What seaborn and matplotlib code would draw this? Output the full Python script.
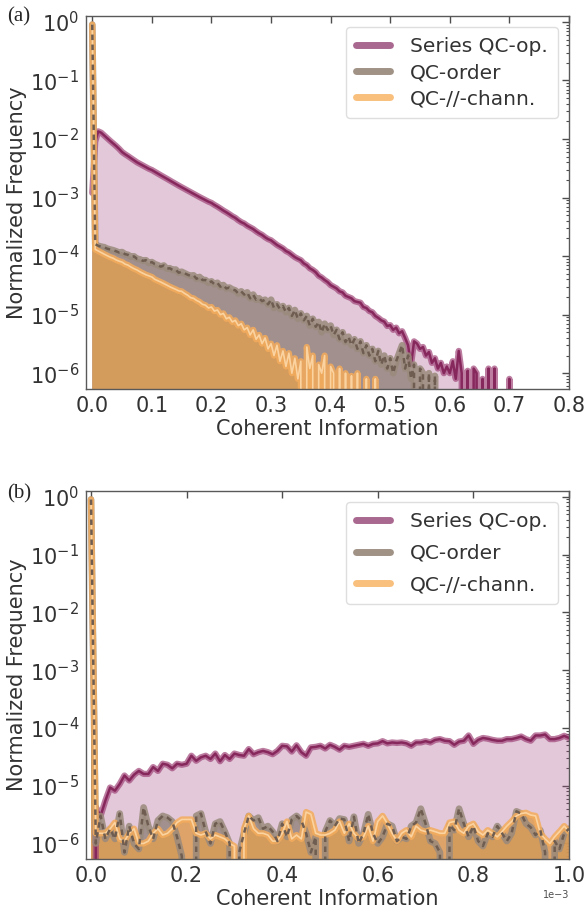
import numpy as np
import pandas as pd
import seaborn as sns
import matplotlib.pyplot as plt
from matplotlib.lines import Line2D
from matplotlib.ticker import LogLocator, MultipleLocator, NullFormatter

# ---- data: normalized frequency per bin ----
# panel (a): bin centres 0.000, 0.005, ... 0.720
a_step = 0.005
a_series = [1.2e-3, 9.0e-3, 1.35e-2, 1.28e-2, 1.15e-2, 1.03e-2, 9.3e-3, 8.4e-3, 7.6e-3, 6.8e-3,
            6.0e-3, 5.5e-3, 5.1e-3, 4.7e-3, 4.35e-3, 4.0e-3, 3.75e-3, 3.5e-3, 3.3e-3, 3.1e-3,
            2.95e-3, 2.75e-3, 2.57e-3, 2.4e-3, 2.25e-3, 2.1e-3, 1.96e-3, 1.83e-3, 1.71e-3, 1.6e-3,
            1.5e-3, 1.41e-3, 1.32e-3, 1.24e-3, 1.16e-3, 1.09e-3, 1.02e-3, 9.6e-4, 9.0e-4, 8.5e-4,
            8.1e-4, 7.5e-4, 7.0e-4, 6.5e-4, 6.0e-4, 5.6e-4, 5.2e-4, 4.8e-4, 4.5e-4, 4.1e-4,
            3.8e-4, 3.6e-4, 3.3e-4, 3.1e-4, 2.9e-4, 2.65e-4, 2.45e-4, 2.3e-4, 2.1e-4, 1.95e-4,
            1.86e-4, 1.7e-4, 1.55e-4, 1.45e-4, 1.35e-4, 1.22e-4, 1.15e-4, 1.05e-4, 9.6e-5, 9.0e-5,
            8.5e-5, 7.5e-5, 7.0e-5, 6.2e-5, 5.8e-5, 5.3e-5, 4.6e-5, 4.3e-5, 3.9e-5, 3.6e-5,
            3.2e-5, 3.0e-5, 2.8e-5, 2.5e-5, 2.4e-5, 2.1e-5, 2.0e-5, 1.9e-5, 1.7e-5, 1.65e-5,
            1.6e-5, 1.35e-5, 1.3e-5, 1.15e-5, 1.1e-5, 9.5e-6, 8.8e-6, 8.0e-6, 7.6e-6, 6.4e-6,
            6.6e-6, 5.5e-6, 6.0e-6, 4.8e-6, 5.2e-6, 4.0e-6, 3.0e-6, 1.4e-6, 3.5e-6, 3.2e-6,
            2.6e-6, 2.8e-6, 2.0e-6, 2.3e-6, 1.5e-6, 1.8e-6, 1.2e-6, 1.5e-6, 1.0e-6, 1.3e-6,
            1.0e-6, 1.6e-6, 8e-7, 2.4e-6, 1.0e-6, 0, 1.1e-6, 0, 1.2e-6, 1.0e-6,
            0, 8e-7, 0, 1.2e-6, 0, 1.2e-6, 0, 0, 0, 0,
            8e-7, 0, 0, 0, 0]
a_order = [0.9, 1.6e-4, 1.5e-4, 1.45e-4, 1.42e-4, 1.34e-4, 1.3e-4, 1.26e-4, 1.21e-4, 1.15e-4,
           1.17e-4, 1.08e-4, 1.05e-4, 9.7e-5, 9.9e-5, 9.0e-5, 8.8e-5, 8.3e-5, 8.5e-5, 7.6e-5,
           7.9e-5, 7.3e-5, 7.0e-5, 6.6e-5, 6.9e-5, 6.1e-5, 6.2e-5, 5.8e-5, 5.9e-5, 5.2e-5,
           5.4e-5, 5.1e-5, 4.8e-5, 4.6e-5, 4.7e-5, 4.1e-5, 4.4e-5, 3.9e-5, 3.9e-5, 3.5e-5,
           3.7e-5, 3.3e-5, 3.5e-5, 3.0e-5, 3.2e-5, 2.8e-5, 2.9e-5, 2.7e-5, 2.6e-5, 2.3e-5,
           2.5e-5, 2.2e-5, 2.4e-5, 1.9e-5, 2.2e-5, 1.8e-5, 1.9e-5, 1.7e-5, 1.8e-5, 1.5e-5,
           1.8e-5, 1.3e-5, 1.5e-5, 1.25e-5, 1.4e-5, 1.1e-5, 1.3e-5, 9.5e-6, 1.2e-5, 8.5e-6,
           1.05e-5, 8.0e-6, 9.5e-6, 6.5e-6, 8.5e-6, 6.2e-6, 7.5e-6, 5.0e-6, 7.0e-6, 5.5e-6,
           6.5e-6, 4.5e-6, 5.5e-6, 3.8e-6, 5.0e-6, 3.4e-6, 4.2e-6, 3.0e-6, 3.8e-6, 2.6e-6,
           3.5e-6, 2.2e-6, 3.0e-6, 2.0e-6, 2.6e-6, 1.6e-6, 2.4e-6, 1.4e-6, 2.0e-6, 1.2e-6,
           1.8e-6, 1.0e-6, 1.6e-6, 2.2e-6, 3.0e-6, 1.2e-6, 2.0e-6, 8e-7, 1.4e-6, 0,
           1.2e-6, 1.0e-6, 0, 1.0e-6, 0, 9e-7] + [0.0] * 29
a_par = [0.9, 1.3e-4, 1.22e-4, 1.15e-4, 1.08e-4, 1.02e-4, 9.6e-5, 9.2e-5, 8.6e-5, 8.2e-5,
         7.9e-5, 7.3e-5, 7.0e-5, 6.5e-5, 6.1e-5, 5.8e-5, 5.4e-5, 5.1e-5, 4.8e-5, 4.6e-5,
         4.4e-5, 4.0e-5, 3.8e-5, 3.6e-5, 3.4e-5, 3.2e-5, 3.0e-5, 2.85e-5, 2.7e-5, 2.55e-5,
         2.5e-5, 2.3e-5, 2.15e-5, 1.95e-5, 1.9e-5, 1.75e-5, 1.65e-5, 1.5e-5, 1.45e-5, 1.3e-5,
         1.35e-5, 1.15e-5, 1.2e-5, 1.0e-5, 1.05e-5, 8.5e-6, 9.0e-6, 7.5e-6, 8.0e-6, 6.5e-6,
         7.0e-6, 5.5e-6, 6.0e-6, 4.5e-6, 5.5e-6, 3.8e-6, 4.5e-6, 3.2e-6, 4.0e-6, 2.6e-6,
         3.2e-6, 2.0e-6, 3.0e-6, 1.6e-6, 2.4e-6, 1.3e-6, 2.2e-6, 1.0e-6, 1.8e-6, 8e-7,
         1.6e-6, 0, 2.8e-6, 1.2e-6, 2.0e-6, 0, 1.4e-6, 1.0e-6, 2.0e-6, 0,
         1.3e-6, 1.0e-6, 0, 1.2e-6, 0, 1.0e-6, 0, 9e-7, 0, 1.0e-6,
         0, 0, 8e-7, 0, 0, 8e-7] + [0.0] * 49

# panel (b): bin centres 0, 1e-5, ... 1e-3
b_step = 1e-5
b_series = [0, 4.3e-6, 3.0e-6, 5.5e-6, 9.3e-6, 8.2e-6, 1.07e-5, 1.5e-5, 1.23e-5, 1.55e-5,
            1.8e-5, 1.6e-5, 1.6e-5, 2.1e-5, 1.8e-5, 2.4e-5, 2.3e-5, 2.0e-5, 2.4e-5, 2.3e-5,
            2.4e-5, 3.3e-5, 2.7e-5, 3.1e-5, 3.3e-5, 2.9e-5, 3.6e-5, 2.65e-5, 3.4e-5, 2.9e-5,
            3.6e-5, 3.4e-5, 3.3e-5, 4.3e-5, 3.5e-5, 3.8e-5, 4.0e-5, 3.8e-5, 3.5e-5, 4.0e-5,
            4.9e-5, 4.8e-5, 3.9e-5, 5.0e-5, 3.8e-5, 3.3e-5, 4.6e-5, 4.7e-5, 4.9e-5, 4.4e-5,
            5.1e-5, 4.7e-5, 4.2e-5, 4.9e-5, 4.7e-5, 4.9e-5, 5.1e-5, 5.3e-5, 4.9e-5, 5.3e-5,
            5.4e-5, 5.9e-5, 5.4e-5, 5.6e-5, 5.5e-5, 5.6e-5, 5.4e-5, 4.9e-5, 5.6e-5, 5.6e-5,
            5.9e-5, 5.6e-5, 6.2e-5, 6.4e-5, 6.0e-5, 5.9e-5, 5.1e-5, 5.8e-5, 6.0e-5, 7.4e-5,
            5.3e-5, 6.2e-5, 6.7e-5, 6.5e-5, 6.2e-5, 6.0e-5, 6.0e-5, 6.4e-5, 6.4e-5, 6.7e-5,
            7.1e-5, 6.4e-5, 6.0e-5, 7.4e-5, 7.4e-5, 7.7e-5, 6.4e-5, 6.4e-5, 6.7e-5, 7.3e-5,
            6.7e-5]
b_order = [0.9, 1.0e-6, 3.0e-6, 1.2e-6, 1.8e-6, 1.2e-6, 3.3e-6, 7e-7, 2.0e-6, 1.0e-6,
           8e-7, 4.2e-6, 2.0e-6, 1.2e-6, 2.5e-6, 3.0e-6, 2.8e-6, 2.4e-6, 1.3e-6, 6e-7,
           0, 0, 3.0e-6, 3.3e-6, 1.6e-6, 1.0e-6, 2.2e-6, 2.4e-6, 1.6e-6, 1.0e-6,
           0, 7e-7, 1.5e-6, 3.0e-6, 2.5e-6, 2.8e-6, 1.8e-6, 2.0e-6, 1.6e-6, 1.1e-6,
           2.2e-6, 1.3e-6, 2.6e-6, 3.0e-6, 2.5e-6, 1.5e-6, 7e-7, 1.3e-6, 0, 1.6e-6,
           2.5e-6, 2.0e-6, 2.7e-6, 2.6e-6, 1.1e-6, 2.9e-6, 1.0e-6, 1.5e-6, 3.2e-6, 1.5e-6,
           1.0e-6, 1.3e-6, 2.2e-6, 2.0e-6, 1.1e-6, 1.3e-6, 1.2e-6, 2.0e-6, 2.3e-6, 4.0e-6,
           2.2e-6, 1.1e-6, 1.0e-6, 7e-7, 0, 2.1e-6, 1.7e-6, 4.0e-6, 2.2e-6, 1.3e-6,
           2.0e-6, 1.1e-6, 9e-7, 1.5e-6, 1.3e-6, 2.0e-6, 1.5e-6, 1.1e-6, 1.5e-6, 3.6e-6,
           3.3e-6, 2.2e-6, 1.9e-6, 1.4e-6, 1.7e-6, 7e-7, 0, 1.1e-6, 8e-7, 1.5e-6,
           1.8e-6]
b_par = [0.9, 1.5e-6, 1.5e-6, 1.5e-6, 1.8e-6, 2.3e-6, 1.2e-6, 1.1e-6, 1.5e-6, 1.8e-6,
         1.0e-6, 1.0e-6, 1.1e-6, 1.5e-6, 1.8e-6, 1.4e-6, 1.5e-6, 1.8e-6, 2.3e-6, 2.6e-6,
         2.6e-6, 2.6e-6, 1.5e-6, 1.4e-6, 1.5e-6, 1.2e-6, 1.4e-6, 1.3e-6, 1.2e-6, 1.0e-6,
         9e-7, 0, 1.8e-6, 3.0e-6, 1.8e-6, 1.5e-6, 1.5e-6, 1.4e-6, 1.1e-6, 1.1e-6,
         1.5e-6, 2.4e-6, 1.2e-6, 1.4e-6, 1.2e-6, 3.5e-6, 3.2e-6, 1.5e-6, 1.4e-6, 1.4e-6,
         1.5e-6, 1.7e-6, 2.4e-6, 1.5e-6, 2.2e-6, 1.5e-6, 1.2e-6, 1.3e-6, 2.0e-6, 1.1e-6,
         2.4e-6, 3.0e-6, 2.2e-6, 1.5e-6, 1.1e-6, 1.5e-6, 1.7e-6, 1.3e-6, 2.0e-6, 1.7e-6,
         1.6e-6, 1.7e-6, 1.6e-6, 1.5e-6, 1.5e-6, 2.3e-6, 2.4e-6, 1.7e-6, 1.5e-6, 2.0e-6,
         2.2e-6, 1.6e-6, 1.4e-6, 1.7e-6, 1.5e-6, 1.3e-6, 1.6e-6, 2.0e-6, 2.4e-6, 3.0e-6,
         3.3e-6, 3.4e-6, 3.1e-6, 3.0e-6, 1.5e-6, 1.2e-6, 1.0e-6, 1.3e-6, 1.6e-6, 2.0e-6,
         1.6e-6]

labels = ["Series QC-op.", "QC-order", "QC-//-chann."]
y_ticks = [1e-6, 1e-5, 1e-4, 1e-3, 1e-2, 1e-1, 1e0]

# ---- style ----
sns.set_theme(style="white")
plt.rcParams["font.family"] = ["DejaVu Sans"]
plt.rcParams["axes.edgecolor"] = "0.35"
plt.rcParams["axes.linewidth"] = 1.0

fill_cols = [("#a04a7f", 0.30), ("#766b5d", 0.60), ("#dd9d54", 0.85)]
legend_cols = ["#a9688f", "#a09285", "#f8c07c"]


def draw_panel(ax, step, series, order, par):
    n = len(series)
    df = pd.DataFrame({"x": np.arange(n) * step,
                       "series": series, "order": order, "par": par})
    edges = list(np.arange(n + 1) * step - step / 2)

    # filled histograms (bin weights = normalized frequency)
    for col, (c, a) in zip(["series", "order", "par"], fill_cols):
        sns.histplot(data=df, x="x", weights=col, bins=edges, element="poly", fill=True,
                     color=c, alpha=a, linewidth=0, ax=ax)

    # outlines
    sns.lineplot(data=df, x="x", y="series", color="#a0467a", lw=4.5, alpha=0.7, ax=ax)
    sns.lineplot(data=df, x="x", y="series", color="#87285d", lw=1.8, ax=ax)
    sns.lineplot(data=df, x="x", y="order", color="#9a8a7c", lw=4.8, alpha=0.85, ax=ax)
    sns.lineplot(data=df, x="x", y="par", color="#f4ac5c", lw=4.5, alpha=0.85, ax=ax)
    sns.lineplot(data=df, x="x", y="par", color="#fbd3a0", lw=1.2, ax=ax)
    sns.lineplot(data=df, x="x", y="order", color="#6e5d50", lw=1.8,
                 linestyle=(0, (2.2, 1.8)), ax=ax)

    ax.set_yscale("log")
    ax.set_ylim(10 ** -6.27, 10 ** 0.1)
    ax.set_yticks(y_ticks)
    ax.yaxis.set_minor_locator(LogLocator(base=10, subs=np.arange(2, 10), numticks=30))
    ax.yaxis.set_minor_formatter(NullFormatter())
    ax.tick_params(which="both", direction="in", top=True, right=True, colors="0.3",
                   labelcolor="0.2")
    ax.tick_params(which="major", length=5, width=1, labelsize=15, pad=5)
    ax.tick_params(which="minor", length=2.5, width=0.8)
    ax.set_xlabel("Coherent Information", fontsize=15, color="0.2", labelpad=2)
    ax.set_ylabel("Normalized Frequency", fontsize=15, color="0.2", labelpad=2)


fig = plt.figure(figsize=(5.87, 9.11), dpi=100)
ax_a = fig.add_axes([0.1465, 0.573, 0.8228, 0.4094])
ax_b = fig.add_axes([0.1465, 0.057, 0.8228, 0.404])

draw_panel(ax_a, a_step, a_series, a_order, a_par)
ax_a.set_xlim(-0.0105, 0.8)
ax_a.xaxis.set_major_locator(MultipleLocator(0.1))

draw_panel(ax_b, b_step, b_series, b_order, b_par)
ax_b.set_xlim(-1.05e-5, 1.0e-3)
ax_b.xaxis.set_major_locator(MultipleLocator(2e-4))
ax_b.ticklabel_format(axis="x", style="sci", scilimits=(0, 0))
ax_b.xaxis.get_offset_text().set_fontsize(7)
ax_b.xaxis.get_offset_text().set_color("0.3")

handles = [Line2D([], [], color=c, lw=5) for c in legend_cols]
for ax, spacing in [(ax_a, 0.35), (ax_b, 0.62)]:
    leg = ax.legend(handles, labels, loc="upper right", fontsize=14.5, handlelength=1.7,
                    handletextpad=1.0, labelspacing=spacing, borderpad=0.5,
                    borderaxespad=0.55, fancybox=True, edgecolor="0.87", framealpha=1)
    for t in leg.get_texts():
        t.set_color("0.2")

fig.text(0.012, 0.992, "(a)", family="Liberation Serif", fontsize=15, va="top")
fig.text(0.012, 0.468, "(b)", family="Liberation Serif", fontsize=15, va="top")

fig.savefig("out.png", dpi=100)
